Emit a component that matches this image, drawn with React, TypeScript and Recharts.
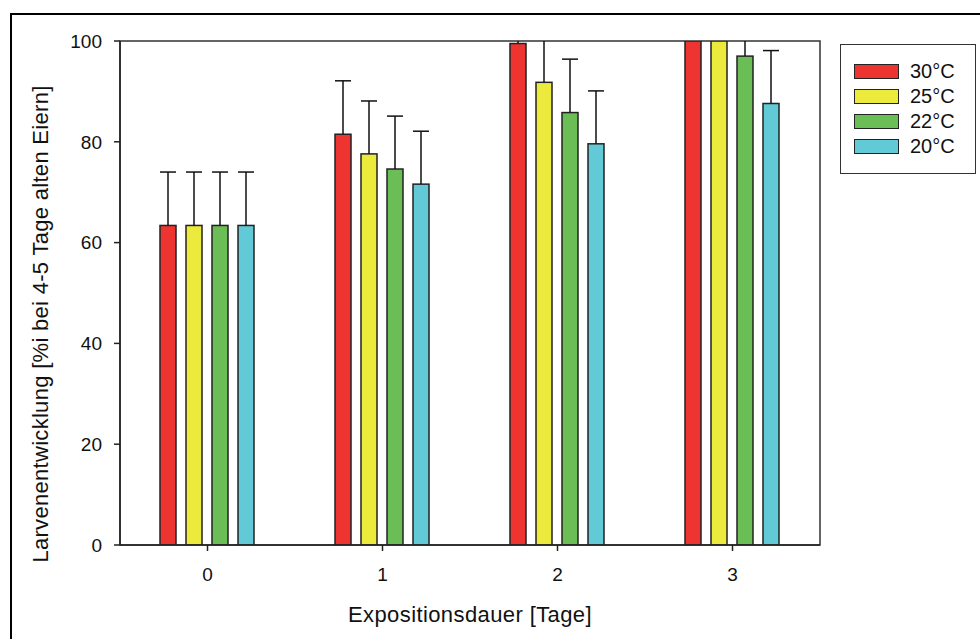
import React from 'react';
import { BarChart, Bar, XAxis, YAxis, Label, ReferenceArea } from 'recharts';

const categories = ['0', '1', '2', '3'];
const seriesNames = ['30°C', '25°C', '22°C', '20°C'];
const seriesColors = ['#EE3430', '#EDEA3E', '#6ABE55', '#62CAD6'];
const t30 = [63.4, 81.5, 99.5, 100];
const t25 = [63.4, 77.6, 91.8, 100];
const t22 = [63.4, 74.6, 85.8, 97.0];
const t20 = [63.4, 71.6, 79.6, 87.6];
const e30 = [10.6, 10.6, 10.5, 10.5];
const e25 = [10.6, 10.5, 10.5, 10.5];
const e22 = [10.6, 10.5, 10.6, 10.5];
const e20 = [10.6, 10.5, 10.5, 10.5];
const yTicks = [0, 20, 40, 60, 80, 100];
const yMax = 100;

const values = [t30, t25, t22, t20];
const errors = [e30, e25, e22, e20];
const keys = ['t30', 't25', 't22', 't20'];

const data = categories.map((c, i) => {
  const row: Record<string, any> = { cat: c };
  keys.forEach((k, s) => {
    row[k] = values[s][i];
    row[k + 'err'] = errors[s][i];
  });
  return row;
});

const FONT = '"Liberation Sans", Arial, sans-serif';

// Bar with an upward error whisker; whisker is derived from the bar's own scaled geometry
const makeShape = (k: string, color: string) => (p: any) => {
  const { x, y, width, height, payload } = p;
  const v = payload[k];
  const err = payload[k + 'err'];
  const pxPerUnit = v > 0 ? height / v : 0;
  const base = y + height;
  const topLimit = base - yMax * pxPerUnit;
  const whiskerTop = y - err * pxPerUnit;
  const clippedTop = Math.max(whiskerTop, topLimit);
  const cx = x + width / 2;
  return (
    <g>
      <rect x={x} y={y} width={width} height={height} fill={color} stroke="#222" strokeWidth={1.5} />
      {clippedTop < y && (
        <line x1={cx} x2={cx} y1={y} y2={clippedTop} stroke="#111" strokeWidth={1.5} />
      )}
      {whiskerTop >= topLimit - 0.5 && (
        <line x1={x} x2={x + width} y1={whiskerTop} y2={whiskerTop} stroke="#111" strokeWidth={1.5} />
      )}
    </g>
  );
};

const LegendBox = () => (
  <div
    style={{
      position: 'absolute',
      left: 840,
      top: 44,
      width: 136,
      height: 130,
      border: '1.5px solid #333',
      boxSizing: 'border-box',
      background: '#fff',
      fontFamily: FONT,
    }}
  >
    {seriesNames.map((n, i) => (
      <div
        key={n}
        style={{ position: 'absolute', left: 13, top: 18 + i * 25, height: 16, display: 'flex', alignItems: 'center' }}
      >
        <div style={{ width: 45, height: 15, background: seriesColors[i], border: '1.5px solid #222', boxSizing: 'border-box' }} />
        <span style={{ marginLeft: 11, fontSize: 20, color: '#111', lineHeight: '16px' }}>{n}</span>
      </div>
    ))}
  </div>
);

export default function App() {
  return (
    <div style={{ position: 'absolute', left: 0, top: 0, width: 980, height: 639, overflow: 'hidden', background: '#fff' }}>
      <div
        style={{
          position: 'absolute',
          left: 10,
          top: 13,
          width: 1100,
          height: 800,
          border: '2.5px solid #000',
          boxSizing: 'border-box',
        }}
      />
      <div style={{ position: 'absolute', left: 0, top: 0 }}>
        <BarChart
          width={980}
          height={639}
          data={data}
          margin={{ top: 41, right: 160, bottom: 64, left: 60 }}
          barGap={10}
          barCategoryGap={40}
          style={{ fontFamily: FONT }}
        >
          <ReferenceArea y1={0} y2={yMax} fill="none" stroke="#333" strokeWidth={1.5} ifOverflow="visible" />
          <XAxis
            dataKey="cat"
            height={30}
            tickSize={6}
            tickMargin={17}
            tick={{ fill: '#111', fontSize: 19, fontFamily: FONT }}
            axisLine={{ stroke: '#222', strokeWidth: 1.5 }}
            tickLine={{ stroke: '#222', strokeWidth: 1.5 }}
          >
            <Label
              value="Expositionsdauer [Tage]"
              position="bottom"
              offset={31}
              style={{ fontSize: 22, fill: '#111', fontFamily: FONT, letterSpacing: 0.4 }}
            />
          </XAxis>
          <YAxis
            width={60}
            domain={[0, yMax]}
            ticks={yTicks}
            allowDataOverflow
            tickSize={6}
            tickMargin={12}
            tick={{ fill: '#111', fontSize: 19, fontFamily: FONT }}
            axisLine={{ stroke: '#222', strokeWidth: 1.5 }}
            tickLine={{ stroke: '#222', strokeWidth: 1.5 }}
          >
            <Label
              value="Larvenentwicklung [%i bei 4-5 Tage alten Eiern]"
              angle={-90}
              position="center"
              dx={-50}
              dy={31}
              style={{ fontSize: 22, fill: '#111', fontFamily: FONT, textAnchor: 'middle', letterSpacing: 0.3 }}
            />
          </YAxis>
          {keys.map((k, s) => (
            <Bar
              key={k}
              dataKey={k}
              name={seriesNames[s]}
              fill={seriesColors[s]}
              shape={makeShape(k, seriesColors[s])}
              isAnimationActive={false}
            />
          ))}
        </BarChart>
      </div>
      <LegendBox />
    </div>
  );
}
